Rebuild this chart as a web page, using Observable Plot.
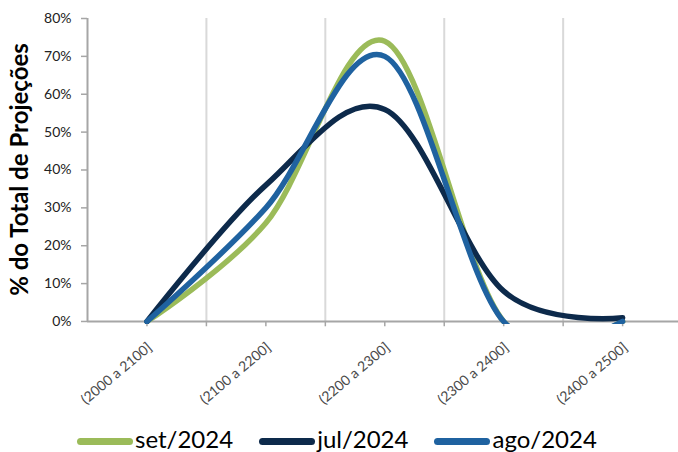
<!DOCTYPE html>
<html><head><meta charset="utf-8">
<script src="https://cdn.jsdelivr.net/npm/d3@7"></script>
<script src="https://cdn.jsdelivr.net/npm/@observablehq/plot@0.6"></script>
<style>
body{margin:0;background:#fff;font-family:Lato,"Open Sans",sans-serif;}
#wrap{position:relative;width:678px;height:452px;overflow:hidden;}
#legend{position:absolute;left:77px;top:427px;display:flex;align-items:center;font-family:Lato,sans-serif;font-size:24px;line-height:24px;color:#000;}
.item{display:flex;align-items:center;margin-right:26px;}
.sw{width:56px;height:7px;border-radius:3.5px;margin-right:2px;position:relative;top:2px;}
</style></head><body>
<div id="wrap"><div id="chart"></div><div id="legend"></div></div>
<script>
const categories = ["(2000 a 2100]","(2100 a 2200]","(2200 a 2300]","(2300 a 2400]","(2400 a 2500]"];
const seriesNames = ["set/2024","jul/2024","ago/2024"];
const seriesColors = ["#9BBB59","#0D2A4B","#1F62A0"];
const setValues = [0, 26, 74, 0, 0];
const julValues = [0, 36, 56, 8, 1];
const agoValues = [0, 30, 70, 0, 0];
const yTicks = [0,10,20,30,40,50,60,70,80];
const yTitle = "% do Total de Projeções";

const seriesValues = [setValues, julValues, agoValues];
const rows = [];
seriesNames.forEach((s, k) => seriesValues[k].forEach((v, i) => rows.push({i, cat: categories[i], series: s, value: v})));
const idx = categories.map((c, i) => i);
const gridX = idx.slice(0, -1).map(i => i + 0.5);
const tickX = idx.flatMap(i => [i, i + 0.5]).filter(v => v <= 4);

const H = 410;
const chart = Plot.plot({
  width: 678, height: H,
  marginLeft: 87, marginRight: 0, marginTop: 18, marginBottom: H - 324,
  style: {fontFamily: "Lato, sans-serif", background: "#fff"},
  x: {type: "linear", domain: [-0.5, 4.47], axis: null},
  y: {domain: [-0.8, 80], axis: null},
  color: {domain: seriesNames, range: seriesColors},
  marks: [
    Plot.ruleX(gridX, {y1: 0, y2: 80, stroke: "#d9d9d9", strokeWidth: 2}),
    Plot.ruleY([0], {x1: -0.5, x2: 4.47, stroke: "#a6a6a6", strokeWidth: 2}),
    Plot.ruleX([-0.5], {y1: 0, y2: 80, stroke: "#a6a6a6", strokeWidth: 2}),
    Plot.ruleX(tickX, {y1: 0, y2: -1.4, stroke: "#a6a6a6", strokeWidth: 1.5}),
    Plot.axisY({ticks: yTicks, tickFormat: d => d + "%", label: null, tickSize: 6, tickPadding: 10, fontSize: 14, stroke: "#a6a6a6", color: "#222", strokeWidth: 1.5}),
    Plot.text(idx, {x: d => d, y: () => 0, text: d => categories[d], rotate: -40, textAnchor: "end", dx: 3, dy: 24, fontSize: 14, fill: "#4a4a4a"}),
    Plot.text([yTitle], {frameAnchor: "left", textAnchor: "middle", dx: -67, dy: -2, rotate: -90, fontSize: 24, fontWeight: "bold", fill: "#000"}),
    Plot.lineY(rows, {x: "i", y: "value", z: "series", stroke: "series", curve: "cardinal", tension: 0, strokeWidth: 5.5, clip: true})
  ]
});
document.getElementById("chart").appendChild(chart);

const legend = document.getElementById("legend");
seriesNames.forEach((s, k) => {
  const it = document.createElement("div"); it.className = "item";
  const sw = document.createElement("div"); sw.className = "sw"; sw.style.background = seriesColors[k];
  const tx = document.createElement("span"); tx.textContent = s;
  it.appendChild(sw); it.appendChild(tx); legend.appendChild(it);
});
</script></body></html>
